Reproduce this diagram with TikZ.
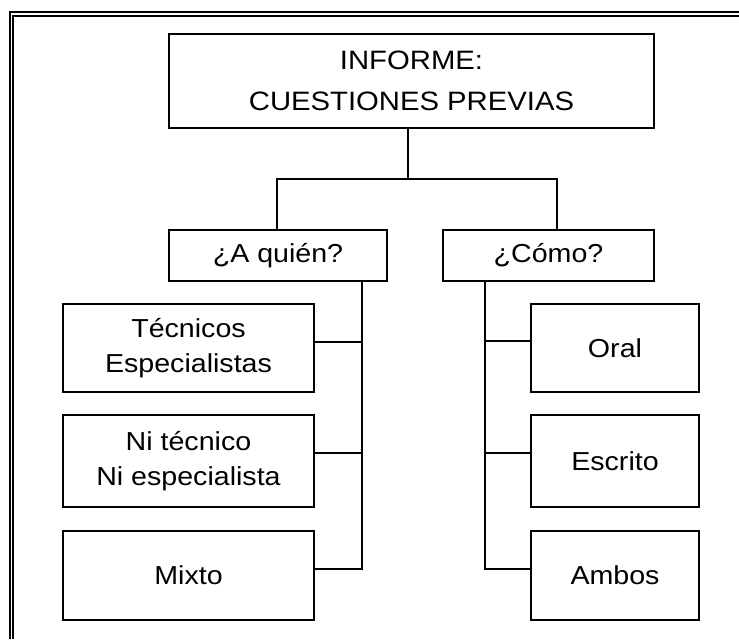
\documentclass[tikz,border=0pt]{standalone}
\usepackage{fontspec}
\setmainfont[FakeStretch=1.1]{Liberation Sans}

\begin{document}
\begin{tikzpicture}[x=0.5pt, y=-0.5pt, line width=1pt,
    box/.style = {draw, inner sep=0pt, align=center, font=\fontsize{13}{17.75}\selectfont},
    lbox/.style = {box, minimum width=125.5pt},
    rbox/.style = {box, minimum width=84pt}]
    \useasboundingbox (0,0) rectangle (739,639);

    %Frame
    \draw (739,12) -- (10,12) -- (10,639);
    \draw (739,15.7) -- (13.3,15.7) -- (13.3,639);

    \node at (411.5,80.75) [box, minimum width=242.5pt, minimum height=46.75pt, font=\fontsize{13.3}{20.5}\selectfont] (inf) {INFORME:\\CUESTIONES PREVIAS};

    \node at (278,255.5) [box, minimum width=109pt, minimum height=25.5pt] (quien) {¿A quién?};
    \node at (548.5,255.5) [box, minimum width=105.5pt, minimum height=25.5pt] (como) {¿Cómo?};

    \node at (188.5,348) [lbox, minimum height=44pt] (tec) {Técnicos\\Especialistas};
    \node at (188.5,461) [lbox, minimum height=46pt] (ni) {Ni técnico\\Ni especialista};
    \node at (188.5,575.25) [lbox, minimum height=44.25pt] (mix) {Mixto};

    \node at (615,348) [rbox, minimum height=44pt] (oral) {Oral};
    \node at (615,461) [rbox, minimum height=46pt] (esc) {Escrito};
    \node at (615,575.25) [rbox, minimum height=44.25pt] (amb) {Ambos};

    %Top branch
    \coordinate (j) at (408,179);
    \coordinate (jl) at (277,179);
    \coordinate (jr) at (557,179);
    \draw (inf.south -| j) -- (j);
    \draw (quien.north -| jl) -- (jl) -- (jr) -- (como.north -| jr);

    %A quien
    \coordinate (a1) at (362,342);
    \coordinate (a2) at (362,453);
    \coordinate (a3) at (362,568.5);
    \draw (quien.south -| a3) -- (a3) -- (mix.east |- a3);
    \draw (tec.east |- a1) -- (a1);
    \draw (ni.east |- a2) -- (a2);

    %Como
    \coordinate (b1) at (485,341);
    \coordinate (b2) at (485,453);
    \coordinate (b3) at (485,569);
    \draw (como.south -| b3) -- (b3) -- (amb.west |- b3);
    \draw (oral.west |- b1) -- (b1);
    \draw (esc.west |- b2) -- (b2);

\end{tikzpicture}
\end{document}
